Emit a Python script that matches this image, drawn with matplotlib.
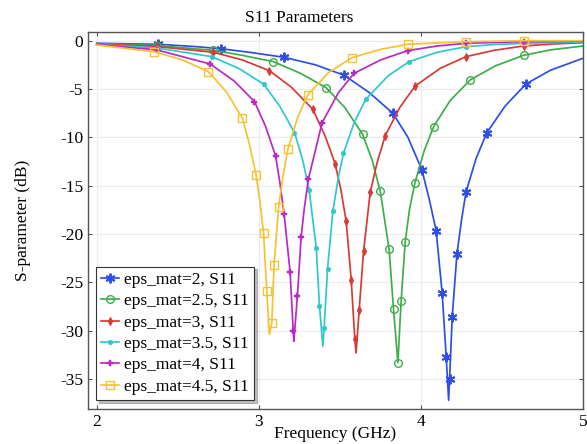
import numpy as np
import matplotlib
matplotlib.use('Agg')
import matplotlib.pyplot as plt

plt.rcParams['font.family'] = ['Liberation Serif', 'DejaVu Serif']
plt.rcParams['axes.unicode_minus'] = False

# --- data (frequency in GHz, S11 in dB) ---
labels = ['eps_mat=2, S11', 'eps_mat=2.5, S11', 'eps_mat=3, S11',
          'eps_mat=3.5, S11', 'eps_mat=4, S11', 'eps_mat=4.5, S11']

blue_f = [2.0, 2.38, 2.6, 2.767, 2.95, 3.156, 3.35, 3.527, 3.68, 3.827, 3.92, 4.006, 4.05, 4.094,
          4.131, 4.156, 4.171, 4.177, 4.193, 4.222, 4.25, 4.278, 4.34, 4.407, 4.52, 4.648, 4.8, 5.0]
blue_db = [-0.27, -0.37, -0.6, -0.83, -1.22, -1.72, -2.5, -3.58, -5.35, -7.51, -10.0, -13.37, -16.3, -19.65,
           -26.1, -32.7, -37.2, -35.0, -28.6, -22.1, -18.6, -15.68, -12.2, -9.51, -6.75, -4.48, -3.05, -1.82]
blue_mk = [2.38, 2.767, 3.156, 3.527, 3.827, 4.006, 4.094, 4.131, 4.156, 4.177, 4.193, 4.222, 4.278, 4.407, 4.648]

green_f = [2.0, 2.37, 2.72, 2.9, 3.09, 3.26, 3.415, 3.53, 3.64, 3.70, 3.749, 3.804, 3.831, 3.858,
           3.878, 3.903, 3.93, 3.963, 4.02, 4.078, 4.18, 4.304, 4.46, 4.633, 4.8, 5.0]
green_db = [-0.3, -0.5, -1.0, -1.52, -2.17, -3.4, -4.86, -6.9, -9.68, -12.4, -15.57, -21.6, -27.8, -33.3,
            -26.9, -20.8, -17.4, -14.7, -11.4, -8.9, -6.2, -4.06, -2.6, -1.51, -0.95, -0.55]
green_mk = [2.37, 2.72, 3.09, 3.415, 3.64, 3.749, 3.804, 3.831, 3.858, 3.878, 3.903, 3.963, 4.078, 4.304, 4.633]

red_f = [2.0, 2.37, 2.72, 2.9, 3.065, 3.2, 3.333, 3.41, 3.471, 3.506, 3.539, 3.57, 3.592, 3.60,
         3.619, 3.646, 3.687, 3.73, 3.78, 3.87, 3.965, 4.12, 4.278, 4.45, 4.633, 4.8, 5.0]
red_db = [-0.35, -0.6, -1.2, -2.0, -3.1, -4.8, -7.1, -9.9, -12.75, -15.4, -18.7, -24.75, -30.85, -32.3,
          -27.85, -21.8, -15.7, -12.6, -9.82, -6.9, -4.68, -2.85, -1.65, -1.0, -0.55, -0.35, -0.2]
red_mk = [2.37, 2.72, 3.065, 3.333, 3.471, 3.539, 3.57, 3.592, 3.619, 3.646, 3.687, 3.78, 3.965, 4.278, 4.633]

cyan_f = [2.0, 2.37, 2.71, 2.88, 3.03, 3.13, 3.22, 3.27, 3.31, 3.354, 3.374, 3.395, 3.403,
          3.424, 3.457, 3.49, 3.522, 3.59, 3.66, 3.8, 3.928, 4.1, 4.278, 4.45, 4.633, 5.0]
cyan_db = [-0.4, -0.75, -1.65, -2.9, -4.5, -6.8, -9.5, -12.3, -15.4, -21.4, -27.4, -31.6, -29.7,
           -23.6, -17.6, -14.2, -11.65, -8.4, -6.06, -3.6, -2.17, -1.2, -0.62, -0.4, -0.27, -0.12]
cyan_mk = [2.37, 2.71, 3.03, 3.22, 3.31, 3.354, 3.374, 3.403, 3.424, 3.457, 3.522, 3.66, 3.928, 4.278, 4.633]

magenta_f = [2.0, 2.37, 2.70, 2.85, 2.973, 3.04, 3.103, 3.13, 3.156, 3.193, 3.212, 3.216, 3.238,
             3.261, 3.28, 3.306, 3.39, 3.49, 3.588, 3.75, 3.918, 4.1, 4.28, 4.633, 5.0]
magenta_db = [-0.4, -0.95, -2.41, -4.2, -6.3, -8.8, -11.9, -14.7, -17.9, -23.95, -30.0, -31.1, -26.4,
              -20.3, -17.4, -14.3, -8.5, -5.4, -3.37, -2.0, -1.03, -0.55, -0.27, -0.1, -0.05]
magenta_mk = [2.37, 2.70, 2.973, 3.103, 3.156, 3.193, 3.212, 3.238, 3.261, 3.306, 3.39, 3.588, 3.918, 4.28, 4.633]

yellow_f = [2.0, 2.354, 2.53, 2.689, 2.80, 2.899, 2.94, 2.983, 3.008, 3.029, 3.049, 3.065, 3.08,
            3.094, 3.122, 3.15, 3.179, 3.24, 3.302, 3.43, 3.574, 3.75, 3.92, 4.28, 4.633, 5.0]
yellow_db = [-0.45, -1.14, -2.0, -3.2, -5.3, -8.03, -10.6, -13.86, -16.8, -19.85, -25.9, -30.4, -29.2,
             -23.2, -17.2, -13.9, -11.23, -7.9, -5.6, -3.3, -1.76, -0.9, -0.37, -0.1, 0.0, 0.0]
yellow_mk = [2.354, 2.689, 2.899, 2.983, 3.029, 3.049, 3.08, 3.094, 3.122, 3.179, 3.302, 3.574, 3.92, 4.28, 4.633]

x_ticks = [2, 3, 4, 5]
y_ticks = [0, -5, -10, -15, -20, -25, -30, -35]

series = [
    (blue_f, blue_db, blue_mk, '#2f4ee8', dict(marker=(6, 2, 0), ms=7, mew=1.4, mfc='none')),
    (green_f, green_db, green_mk, '#3fae4a', dict(marker='o', ms=5.5, mew=1.0, mfc='none')),
    (red_f, red_db, red_mk, '#d83a36', dict(marker='d', ms=4, mew=0.8)),
    (cyan_f, cyan_db, cyan_mk, '#2ec8cf', dict(marker='o', ms=3.2, mew=0.5)),
    (magenta_f, magenta_db, magenta_mk, '#b82ac4', dict(marker='P', ms=5, mew=0.3)),
    (yellow_f, yellow_db, yellow_mk, '#f6c232', dict(marker='s', ms=5.5, mew=1.0, mfc='none')),
]

fs = 12.5

fig = plt.figure(figsize=(5.87, 4.44), dpi=100)
ax = fig.add_axes([88 / 587, 35 / 444, (583 - 88) / 587, (409 - 31.7) / 444])

for (f, db, mk, color, style), lab in zip(series, labels):
    idx = [i for i, v in enumerate(f) if v in mk]
    ax.plot(f, db, color=color, lw=1.25, markevery=idx, mec=color, label=lab, **style)

ax.set_xlim(1.946, 5.0)
ax.set_ylim(-38.1, 0.93)
ax.set_xticks(x_ticks)
ax.set_yticks(y_ticks)
ax.tick_params(direction='in', top=True, right=True, labelsize=fs, length=3, color='#555555')
ax.grid(True, color='#ececec', lw=0.8)
for s in ax.spines.values():
    s.set_color('#555555')
    s.set_linewidth(1.0)

ax.set_xlabel('Frequency (GHz)', fontsize=fs, labelpad=-3)
ax.set_ylabel('S-parameter (dB)', fontsize=fs, labelpad=21)
fig.text(299 / 587, 1 - 18 / 444, 'S11 Parameters', ha='center', va='center', fontsize=fs)

leg = ax.legend(loc='lower left', bbox_to_anchor=(96 / 587, 44 / 444), bbox_transform=fig.transFigure,
                fontsize=fs, fancybox=False, shadow={'alpha': 0.35}, framealpha=1, edgecolor='#333333',
                handlelength=1.0, handletextpad=0.3, labelspacing=0.3, borderpad=0.3, borderaxespad=0)
leg.get_frame().set_linewidth(0.8)

fig.savefig('out.png', dpi=100)
